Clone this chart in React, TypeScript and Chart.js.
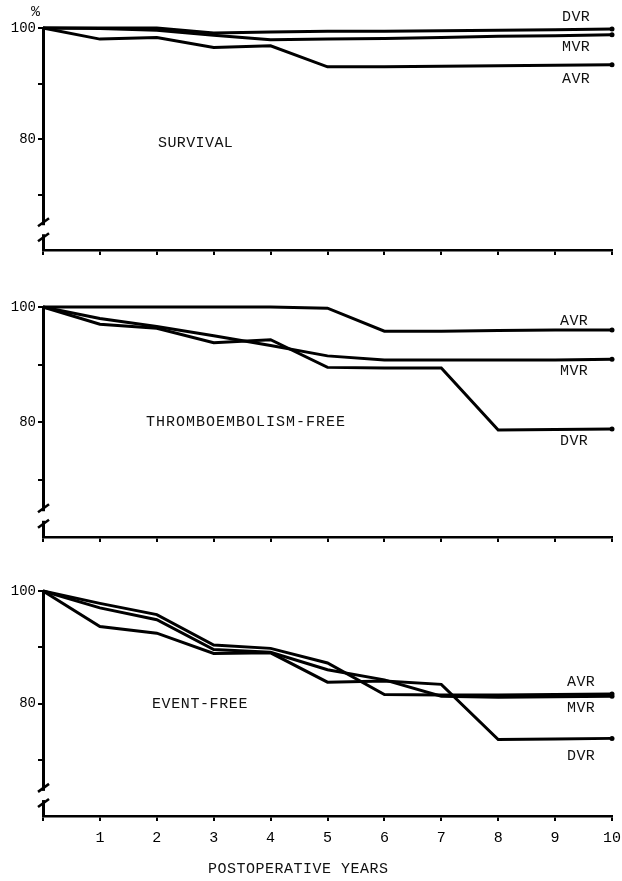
import React, { useEffect, useRef } from "react";
import { Chart, registerables } from "chart.js";

Chart.register(...registerables);

// ---- data ----
const years = [0, 1, 2, 3, 4, 5, 6, 7, 8, 9, 10];
const labeledYTicks = [80, 100];
const breakValues = [65, 62.3];

const survivalDVR = [100, 100, 100, 99.1, 99.3, 99.4, 99.4, 99.5, 99.6, 99.7, 99.8];
const survivalMVR = [100, 99.9, 99.6, 98.7, 97.9, 98.0, 98.1, 98.3, 98.5, 98.6, 98.8];
const survivalAVR = [100, 98.0, 98.3, 96.5, 96.8, 93.0, 93.0, 93.1, 93.2, 93.3, 93.4];

const thromboAVR = [100, 100, 100, 100, 100, 99.8, 95.8, 95.8, 95.9, 96.0, 96.0];
const thromboMVR = [100, 98.0, 96.6, 95.0, 93.3, 91.5, 90.8, 90.8, 90.8, 90.8, 90.9];
const thromboDVR = [100, 97.0, 96.3, 93.8, 94.3, 89.5, 89.4, 89.4, 78.6, 78.7, 78.8];

const eventAVR = [100, 97.8, 95.8, 90.4, 89.8, 87.2, 81.6, 81.5, 81.5, 81.6, 81.7];
const eventMVR = [100, 97.0, 94.9, 89.6, 89.1, 86.0, 84.2, 81.3, 81.1, 81.2, 81.3];
const eventDVR = [100, 93.7, 92.5, 88.9, 89.0, 83.8, 84.0, 83.4, 73.6, 73.7, 73.8];

const FONT = "'Liberation Mono', 'DejaVu Sans Mono', monospace";

const axisBreak = {
  id: "axisBreak",
  afterDraw(chart: any) {
    const ys = chart.scales.y;
    const x0 = chart.chartArea.left;
    const ctx = chart.ctx;
    const yHi = ys.getPixelForValue(breakValues[0]);
    const yLo = ys.getPixelForValue(breakValues[1]);
    ctx.save();
    ctx.fillStyle = "#fff";
    ctx.fillRect(x0 - 3, yHi + 3, 6, yLo - yHi - 6);
    ctx.strokeStyle = "#000";
    ctx.lineWidth = 2.5;
    for (const yy of [yHi, yLo]) {
      ctx.beginPath();
      ctx.moveTo(x0 - 5, yy + 4);
      ctx.lineTo(x0 + 6, yy - 4);
      ctx.stroke();
    }
    ctx.restore();
  },
};

function makeDataset(values: number[]) {
  return {
    data: years.map((x, i) => ({ x, y: values[i] })),
    borderColor: "#000",
    backgroundColor: "#000",
    borderWidth: 3,
    tension: 0,
    clip: false as any,
    pointRadius: (c: any) => (c.dataIndex === years.length - 1 ? 2.5 : 0),
    pointBackgroundColor: "#000",
    pointBorderWidth: 0,
  };
}

type PanelProps = {
  series: number[][];
  height: number;
  padTop: number;
  xHeight: number;
  showXLabels: boolean;
};

function Panel({ series, height, padTop, xHeight, showXLabels }: PanelProps) {
  const ref = useRef<HTMLCanvasElement | null>(null);
  useEffect(() => {
    if (!ref.current) return;
    const chart = new Chart(ref.current, {
      type: "line",
      data: { datasets: series.map(makeDataset) },
      plugins: [axisBreak],
      options: {
        animation: false,
        responsive: false,
        devicePixelRatio: 1,
        layout: { padding: { top: padTop, right: 10, left: 0, bottom: 0 } },
        plugins: { legend: { display: false }, tooltip: { enabled: false } },
        scales: {
          x: {
            type: "linear",
            min: 0,
            max: 10,
            afterFit: (s: any) => {
              s.height = xHeight;
              s.paddingLeft = 0;
              s.paddingRight = 0;
            },
            ticks: {
              stepSize: 1,
              display: showXLabels,
              color: "#000",
              padding: 8,
              font: { family: FONT, size: 15 },
              callback: (v: any) => (v === 0 ? "" : String(v)),
              maxRotation: 0,
              autoSkip: false,
            },
            grid: {
              drawOnChartArea: false,
              drawTicks: true,
              tickLength: 5,
              color: "#000",
              lineWidth: 2,
            },
            border: { display: true, color: "#000", width: 2.5 },
          },
          y: {
            type: "linear",
            min: 60,
            max: 100,
            afterFit: (s: any) => {
              s.width = 43;
            },
            ticks: {
              stepSize: 10,
              color: "#000",
              padding: 2,
              font: { family: FONT, size: 14 },
              callback: (v: any) => (labeledYTicks.includes(v) ? String(v) : ""),
            },
            grid: {
              drawOnChartArea: false,
              drawTicks: true,
              tickLength: 5,
              color: (c: any) => (c.tick && c.tick.value === 60 ? "rgba(0,0,0,0)" : "#000"),
              lineWidth: 2,
            },
            border: { display: true, color: "#000", width: 3 },
          },
        },
      } as any,
    });
    return () => chart.destroy();
  }, []);
  return <canvas ref={ref} width={622} height={height} style={{ display: "block", width: 622, height }} />;
}

const textStyle: React.CSSProperties = {
  position: "absolute",
  fontFamily: FONT,
  fontSize: 15,
  color: "#111",
  lineHeight: "16px",
  whiteSpace: "nowrap",
  transform: "translateY(-50%)",
};

function Label({ x, y, text, spacing = 0 }: { x: number; y: number; text: string; spacing?: number }) {
  return <div style={{ ...textStyle, left: x, top: y, letterSpacing: spacing }}>{text}</div>;
}

export default function App() {
  return (
    <div style={{ position: "absolute", left: 0, top: 0, width: 622, height: 881, background: "#fff", overflow: "hidden" }}>
      <div style={{ position: "absolute", left: 0, top: 0 }}>
        <Panel series={[survivalDVR, survivalMVR, survivalAVR]} height={270} padTop={28} xHeight={20} showXLabels={false} />
      </div>
      <div style={{ position: "absolute", left: 0, top: 270 }}>
        <Panel series={[thromboAVR, thromboMVR, thromboDVR]} height={290} padTop={37} xHeight={23} showXLabels={false} />
      </div>
      <div style={{ position: "absolute", left: 0, top: 560 }}>
        <Panel series={[eventAVR, eventMVR, eventDVR]} height={321} padTop={31} xHeight={65} showXLabels={true} />
      </div>

      <Label x={31} y={13} text="%" />
      <Label x={158} y={144} text="SURVIVAL" spacing={0.4} />
      <Label x={562} y={18} text="DVR" spacing={0.4} />
      <Label x={562} y={48} text="MVR" spacing={0.4} />
      <Label x={562} y={80} text="AVR" spacing={0.4} />

      <Label x={146} y={423} text="THROMBOEMBOLISM-FREE" spacing={1} />
      <Label x={560} y={322} text="AVR" spacing={0.4} />
      <Label x={560} y={372} text="MVR" spacing={0.4} />
      <Label x={560} y={442} text="DVR" spacing={0.4} />

      <Label x={152} y={705} text="EVENT-FREE" spacing={0.6} />
      <Label x={567} y={683} text="AVR" spacing={0.4} />
      <Label x={567} y={709} text="MVR" spacing={0.4} />
      <Label x={567} y={757} text="DVR" spacing={0.4} />

      <Label x={208} y={870} text="POSTOPERATIVE YEARS" spacing={0.5} />
    </div>
  );
}
